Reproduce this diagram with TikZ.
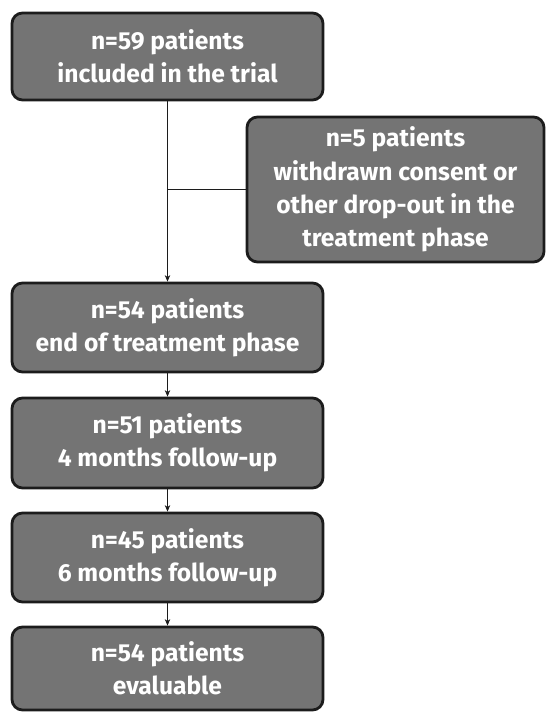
\documentclass[tikz,border=0pt]{standalone}
\usepackage{fontspec}
\setsansfont{Fira Sans}
\usepackage{tikz}
\usetikzlibrary{arrows.meta,positioning}
\definecolor{trialGray}{HTML}{747474}
\definecolor{trialEdge}{HTML}{1C1C1C}
\tikzset{
  flow/.style={-{Stealth[length=1.3mm,width=1.1mm]}, thin, draw=trialEdge},
  side flow/.style={thin, draw=trialEdge},
  patient box/.style={draw=trialEdge, fill=trialGray, line width=1.6pt,
    rounded corners=6pt, text=white, align=center,
    font=\sffamily\bfseries\fontsize{14}{19}\selectfont,
    minimum width=6.22cm, inner sep=2pt},
  dropout box/.style={patient box, minimum width=5.94cm}
}

\begin{document}
\begin{tikzpicture}
  \useasboundingbox (0,0) rectangle (10.92,-14.24);
  \node[patient box, minimum height=1.74cm] (incl) at (3.35,-1.13)
    {n=59 patients\\included in the trial};
  \node[dropout box, minimum height=2.9cm] (drop) at (7.91,-3.79)
    {n=5 patients\\withdrawn consent or\\other drop-out in the\\treatment phase};
  \node[patient box, minimum height=1.78cm] (endtr) at (3.35,-6.55)
    {n=54 patients\\end of treatment phase};
  \node[patient box, minimum height=1.8cm] (fu4) at (3.35,-8.86)
    {n=51 patients\\4 months follow-up};
  \node[patient box, minimum height=1.78cm] (fu6) at (3.35,-11.15)
    {n=45 patients\\6 months follow-up};
  \node[patient box, minimum height=1.66cm] (eval) at (3.35,-13.37)
    {n=54 patients\\evaluable};
  \coordinate (split) at (incl.south |- drop.west);
  \draw[flow] (incl) -- (endtr);
  \draw[side flow] (split) -- (drop.west);
  \draw[flow] (endtr) -- (fu4);
  \draw[flow] (fu4) -- (fu6);
  \draw[flow] (fu6) -- (eval);
\end{tikzpicture}
\end{document}
